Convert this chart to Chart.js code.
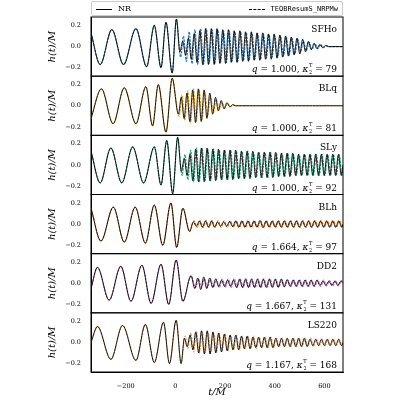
<!DOCTYPE html>
<html>
<head>
<meta charset="utf-8">
<script src="https://cdn.jsdelivr.net/npm/chart.js@4"></script>
<style>
  body { margin: 0; background: #fff; }
  #wrap { position: relative; width: 400px; height: 400px; }
  #legend { position: absolute; left: 91px; top: 1px; width: 252px; height: 15px; border: 1px solid #ccc; border-radius: 2px;
    font: 8px "DejaVu Serif", serif; display: flex; align-items: center; justify-content: space-between; box-sizing: border-box; padding: 0 4px; }
  .sw { display: inline-block; width: 16px; vertical-align: middle; margin-right: 6px; }
</style>
</head>
<body>
<div id="wrap">
  <canvas id="wave" width="400" height="400"></canvas>
  <div id="legend">
    <span><span class="sw" style="border-top:1.2px solid #000"></span>NR</span>
    <span><span class="sw" style="border-top:1.2px dashed #000"></span><span style="font:7px 'DejaVu Sans Mono',monospace">TEOBResumS_NRPMw</span></span>
  </div>
</div>
<script>
// panel labels
const eosNames = ["SFHo", "BLq", "SLy", "BLh", "DD2", "LS220"];
const massRatios = ["1.000", "1.000", "1.000", "1.664", "1.667", "1.167"];
const kappas = ["79", "81", "92", "97", "131", "168"];
const colors = ["#2a7ab9", "#f0a30a", "#17a37e", "#e5780e", "#c06cc0", "#eea860"];

// inspiral + merger extrema (t/M, h/M)
const inspT = [
  [-340, -303, -256, -209, -159, -116, -85, -58, -38, -13, 4],
  [-340, -298, -251, -206, -159, -119, -92, -69, -38, -13],
  [-340, -303, -260, -216, -172, -128, -85, -58, -35, -11, 9],
  [-340, -300, -250, -206, -162, -121, -85, -51, -18, 5, 30, 57],
  [-340, -314, -267, -220, -179, -135, -98, -58, -27, 3, 30, 63],
  [-340, -314, -260, -213, -159, -121, -85, -48, -24, 3, 23],
];
const inspH = [
  [0.13, -0.17, 0.16, -0.17, 0.17, -0.19, 0.2, -0.2, 0.23, -0.25, 0.26],
  [-0.12, 0.16, -0.17, 0.17, -0.17, 0.18, -0.19, 0.2, -0.25, 0.26],
  [0.13, -0.17, 0.16, -0.17, 0.17, -0.17, 0.17, -0.19, 0.23, -0.27, 0.26],
  [0.15, -0.16, 0.16, -0.17, 0.16, -0.18, 0.18, -0.2, 0.2, -0.22, 0.15, -0.07],
  [-0.05, 0.15, -0.16, 0.16, -0.17, 0.17, -0.19, 0.18, -0.2, 0.22, -0.17, 0.07],
  [0, 0.15, -0.16, 0.16, -0.17, 0.17, -0.19, 0.19, -0.2, 0.21, -0.2],
];

// post-merger: start time, half-cycle spacing, first sign, amplitude per cycle
const postStart = [18, 12, 24, 72, 78, 36];
const postHalf = [11.5, 11.5, 11.5, 12.2, 12, 11.5];
const postSign = [-1, -1, -1, 1, -1, 1];
const postAmpNR = [
  [0.05, 0.08, 0.12, 0.15, 0.17, 0.17, 0.17, 0.16, 0.16, 0.15, 0.15, 0.14, 0.14, 0.13, 0.13, 0.12, 0.12, 0.11, 0.1, 0.09, 0.08, 0.07, 0.05, 0.03, 0.02, 0.01, 0, 0, 0, 0],
  [0.08, 0.12, 0.15, 0.16, 0.15, 0.12, 0.08, 0.05, 0.03, 0.01, 0, 0, 0, 0, 0, 0, 0, 0, 0, 0, 0, 0, 0, 0, 0, 0, 0, 0, 0, 0],
  [0.06, 0.1, 0.15, 0.16, 0.16, 0.15, 0.15, 0.14, 0.14, 0.14, 0.13, 0.13, 0.13, 0.12, 0.12, 0.12, 0.12, 0.11, 0.11, 0.11, 0.1, 0.1, 0.1, 0.1, 0.1, 0.1, 0.1, 0.1, 0.1],
  [0.02, 0.03, 0.03, 0.03, 0.02, 0.02, 0.025, 0.03, 0.03, 0.03, 0.03, 0.035, 0.03, 0.03, 0.03, 0.03, 0.03, 0.03, 0.03, 0.03, 0.03, 0.03, 0.03, 0.03, 0.03],
  [0.05, 0.06, 0.05, 0.04, 0.03, 0.03, 0.03, 0.04, 0.04, 0.04, 0.04, 0.04, 0.04, 0.04, 0.04, 0.035, 0.03, 0.03, 0.03, 0.03, 0.03, 0.02, 0.02, 0.02, 0.02],
  [0.04, 0.07, 0.1, 0.11, 0.11, 0.1, 0.09, 0.08, 0.07, 0.07, 0.06, 0.06, 0.05, 0.05, 0.05, 0.05, 0.04, 0.04, 0.04, 0.04, 0.04, 0.04, 0.03, 0.03, 0.03, 0.03, 0.03, 0.03],
];
const postAmpModel = [
  [0.1, 0.14, 0.16, 0.17, 0.17, 0.16, 0.16, 0.15, 0.15, 0.14, 0.14, 0.13, 0.13, 0.12, 0.12, 0.11, 0.1, 0.1, 0.09, 0.08, 0.07, 0.05, 0.04, 0.03, 0.02, 0.01, 0, 0, 0, 0],
  [0.1, 0.14, 0.16, 0.15, 0.13, 0.09, 0.06, 0.03, 0.02, 0.01, 0, 0, 0, 0, 0, 0, 0, 0, 0, 0, 0, 0, 0, 0, 0, 0, 0, 0, 0, 0],
  [0.1, 0.14, 0.16, 0.16, 0.15, 0.15, 0.14, 0.14, 0.14, 0.13, 0.13, 0.13, 0.12, 0.12, 0.12, 0.12, 0.11, 0.11, 0.11, 0.1, 0.1, 0.1, 0.1, 0.1, 0.1, 0.1, 0.1, 0.1, 0.1],
  [0.03, 0.03, 0.03, 0.03, 0.03, 0.03, 0.03, 0.03, 0.03, 0.03, 0.03, 0.03, 0.03, 0.03, 0.03, 0.03, 0.03, 0.03, 0.03, 0.03, 0.03, 0.03, 0.03, 0.03, 0.03],
  [0.04, 0.04, 0.04, 0.04, 0.04, 0.04, 0.04, 0.04, 0.04, 0.04, 0.04, 0.04, 0.04, 0.035, 0.035, 0.03, 0.03, 0.03, 0.03, 0.03, 0.03, 0.03, 0.025, 0.025, 0.025],
  [0.06, 0.09, 0.1, 0.1, 0.1, 0.09, 0.08, 0.08, 0.07, 0.07, 0.06, 0.06, 0.06, 0.05, 0.05, 0.05, 0.04, 0.04, 0.04, 0.04, 0.04, 0.04, 0.04, 0.03, 0.03, 0.03, 0.03, 0.03],
];

const xTicks = [-200, 0, 200, 400, 600];
const yTicks = [-0.2, 0, 0.2];

function buildSeries(i, amps, shift) {
  const pts = inspT[i].map((t, k) => ({ x: t, y: inspH[i][k] }));
  let sign = postSign[i];
  let t = postStart[i] + shift;
  amps.forEach((a) => {
    for (let h = 0; h < 2; h++) {
      if (t <= 675) pts.push({ x: t, y: sign * a });
      sign = -sign;
      t += postHalf[i];
    }
  });
  if (pts[pts.length - 1].x < 675) pts.push({ x: 675, y: 0 });
  return pts;
}

const tickFont = { family: "DejaVu Serif", size: 6.5 };
const datasets = [];
const scales = {
  x: {
    type: "linear", min: -340, max: 675,
    grid: { display: false }, border: { color: "#000" },
    afterBuildTicks: (s) => { s.ticks = xTicks.map((v) => ({ value: v })); },
    afterFit: (s) => { s.height = 26; },
    ticks: { color: "#000", font: tickFont, maxRotation: 0, padding: 2,
      callback: (v) => (v < 0 ? "\u2212" + Math.abs(v) : v) },
    title: { display: true, text: "t/M", color: "#000", padding: 0, font: { family: "DejaVu Serif", size: 10, style: "italic" } },
  },
};

// the first stacked axis goes to the bottom, so add panels from the bottom up
for (let i = eosNames.length - 1; i >= 0; i--) {
  scales["y" + i] = {
    type: "linear", position: "left", stack: "panels", stackWeight: 1, offset: false,
    min: -0.28, max: 0.28,
    grid: { display: false }, border: { color: "#000" },
    afterBuildTicks: (s) => { s.ticks = yTicks.map((v) => ({ value: v })); },
    afterFit: (s) => { s.width = 45; },
    ticks: { color: "#000", font: tickFont, padding: 2,
      callback: (v) => (Math.abs(v) < 1e-9 ? "0.0" : (v < 0 ? "\u2212" : "") + Math.abs(v).toFixed(1)) },
    title: { display: true, text: "h(t)/M", color: "#000", padding: 0, font: { family: "DejaVu Serif", size: 10, style: "italic" } },
  };
}

eosNames.forEach((name, i) => {
  const id = "y" + i;
  datasets.push({
    label: name + " NR", yAxisID: id, data: buildSeries(i, postAmpNR[i], 0),
    borderColor: "#000", borderWidth: 0.9, pointRadius: 0, cubicInterpolationMode: "monotone",
  });
  datasets.push({
    label: name + " model", yAxisID: id, data: buildSeries(i, postAmpModel[i], 3),
    borderColor: colors[i], borderWidth: 1.2, borderDash: [2.5, 1], pointRadius: 0, cubicInterpolationMode: "monotone",
  });
});

const panelText = {
  id: "panelText",
  afterDraw(chart) {
    const ctx = chart.ctx;
    const { left, right } = chart.chartArea;
    ctx.save();
    ctx.strokeStyle = "#000";
    ctx.lineWidth = 1;
    eosNames.forEach((name, i) => {
      const s = chart.scales["y" + i];
      ctx.strokeRect(left, s.top, right - left, s.bottom - s.top);
      ctx.fillStyle = "#000";
      ctx.textAlign = "right";
      ctx.textBaseline = "alphabetic";
      ctx.font = "9px 'DejaVu Serif', serif";
      ctx.fillText(name, right - 6, s.top + 15);
      // q = ..., kappa_2^T = ...
      const x0 = right - 6;
      const y0 = s.bottom - 4;
      const tail = " = " + kappas[i];
      const w1 = ctx.measureText(tail).width;
      ctx.fillText(tail, x0, y0);
      ctx.font = "5px 'DejaVu Serif', serif";
      ctx.fillText("T", x0 - w1, y0 - 5);
      ctx.fillText("2", x0 - w1, y0 + 2);
      const wk = 4;
      ctx.font = "italic 9px 'DejaVu Serif', serif";
      ctx.fillText("\u03ba", x0 - w1 - wk, y0);
      const wkap = ctx.measureText("\u03ba").width;
      ctx.font = "9px 'DejaVu Serif', serif";
      const qv = " = " + massRatios[i] + ", ";
      ctx.fillText(qv, x0 - w1 - wk - wkap, y0);
      const wq = ctx.measureText(qv).width;
      ctx.font = "italic 9px 'DejaVu Serif', serif";
      ctx.fillText("q", x0 - w1 - wk - wkap - wq, y0);
    });
    ctx.restore();
  },
};

new Chart(document.getElementById("wave"), {
  type: "line",
  data: { datasets },
  options: {
    responsive: false, animation: false,
    layout: { padding: { left: 46, right: 57, top: 17, bottom: 2 } },
    plugins: { legend: { display: false }, tooltip: { enabled: false } },
    scales,
  },
  plugins: [panelText],
});
</script>
</body>
</html>
